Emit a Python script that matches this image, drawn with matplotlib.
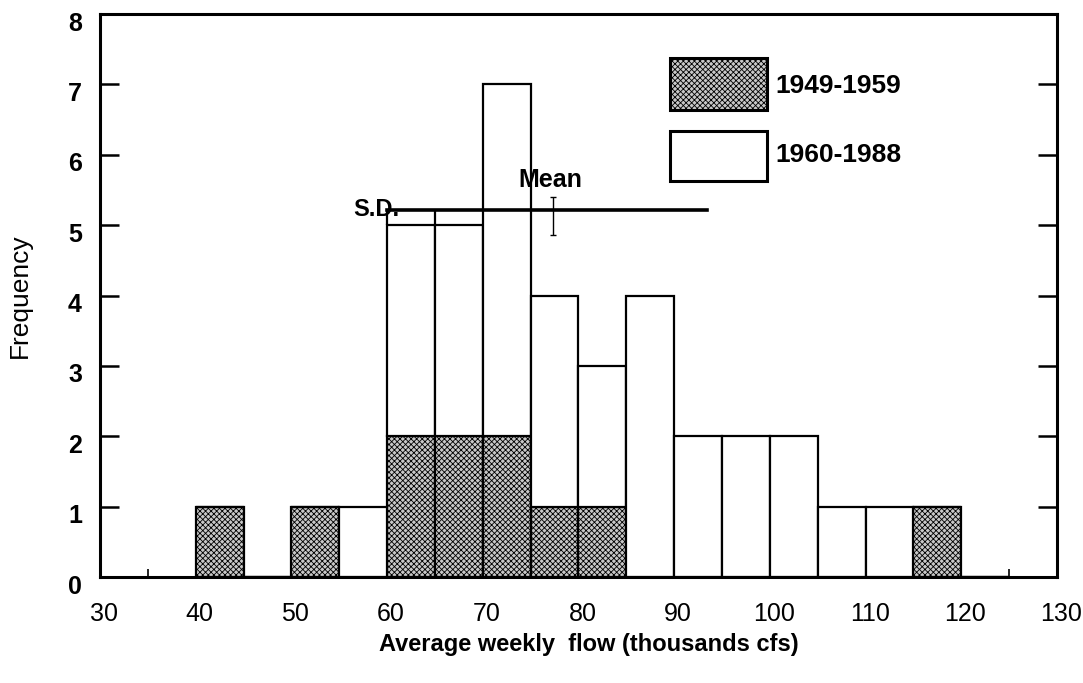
import numpy as np
import matplotlib
matplotlib.use("Agg")
import matplotlib.pyplot as plt
import matplotlib.transforms as mtransforms

plt.rcParams['font.family'] = ['Liberation Sans', 'DejaVu Sans']
plt.rcParams['hatch.linewidth'] = 0.6

# histogram bins (thousands cfs), width 5
bin_left = np.arange(40, 125, 5)
early = [1, 0, 1, 0, 2, 2, 2, 1, 1, 0, 0, 0, 0, 0, 0, 1, 0]   # 1949-1959
late = [0, 0, 0, 1, 3, 3, 5, 3, 2, 4, 2, 2, 2, 1, 1, 0, 0]    # 1960-1988

mean_flow = 77.3
mean_y = 5.13
mean_err = 0.27
sd_left = 60
sd_right = 93.4
sd_y = 5.22

stipple = dict(facecolor='#c8c8c8', edgecolor='black', hatch='xxxxxx')

fig = plt.figure(figsize=(10.83, 6.83), dpi=100)
ax = fig.add_axes([0.0923, 0.155, 0.8837, 0.8245])

ax.bar(bin_left, early, width=5, align='edge', linewidth=1.6, zorder=2, **stipple)
ax.bar(bin_left, late, width=5, bottom=early, align='edge', facecolor='white',
       edgecolor='black', linewidth=1.6, zorder=2)

# S.D. bar and mean marker
ax.plot([sd_left, sd_right], [sd_y, sd_y], color='black', lw=2.6, zorder=4)
ax.vlines([60, 65], 5, sd_y, color='black', lw=1.6, zorder=4)
ax.errorbar([mean_flow], [mean_y], yerr=[mean_err], fmt='none', ecolor='black',
            elinewidth=1.0, capsize=2, capthick=1.0, zorder=5)
ax.text(mean_flow - 0.2, 5.47, 'Mean', fontsize=18, fontweight='bold',
        ha='center', va='bottom', zorder=6)
ax.text(56.5, 5.22, 'S.D.', fontsize=17, fontweight='bold',
        ha='left', va='center', zorder=6)

# legend boxes
ax.add_patch(plt.Rectangle((89.6, 6.64), 10.1, 0.73, lw=2.2, zorder=3, **stipple))
ax.add_patch(plt.Rectangle((89.6, 5.63), 10.1, 0.71, facecolor='white',
                           edgecolor='black', lw=2.2, zorder=3))
ax.text(100.6, 6.98, '1949-1959', fontsize=19, fontweight='bold', va='center')
ax.text(100.6, 5.99, '1960-1988', fontsize=19, fontweight='bold', va='center')

ax.set_xlim(30, 130)
ax.set_ylim(0, 8)
ax.set_xticks(np.arange(30, 131, 10))
ax.set_xticks(np.arange(35, 130, 10), minor=True)
ax.set_yticks(np.arange(0, 9, 1))
ax.tick_params(axis='y', direction='in', length=14, width=1.8, right=True,
               labelsize=18, pad=13)
ax.tick_params(axis='x', which='both', direction='in', length=6, width=1.2,
               labelsize=18, pad=18)
for lab in ax.get_yticklabels():
    lab.set_fontweight('bold')
    lab.set_transform(lab.get_transform() +
                      mtransforms.ScaledTranslation(0, -7 / 100, fig.dpi_scale_trans))
for lab in ax.get_xticklabels():
    lab.set_transform(lab.get_transform() +
                      mtransforms.ScaledTranslation(4 / 100, 0, fig.dpi_scale_trans))
for s in ax.spines.values():
    s.set_linewidth(2.2)

ax.set_xlabel('Average weekly  flow (thousands cfs)', fontsize=17,
              fontweight='bold', labelpad=5)
ax.xaxis.label.set_x(0.511)
ax.set_ylabel('Frequency', fontsize=19, labelpad=26)

fig.savefig('out.png', dpi=100)
